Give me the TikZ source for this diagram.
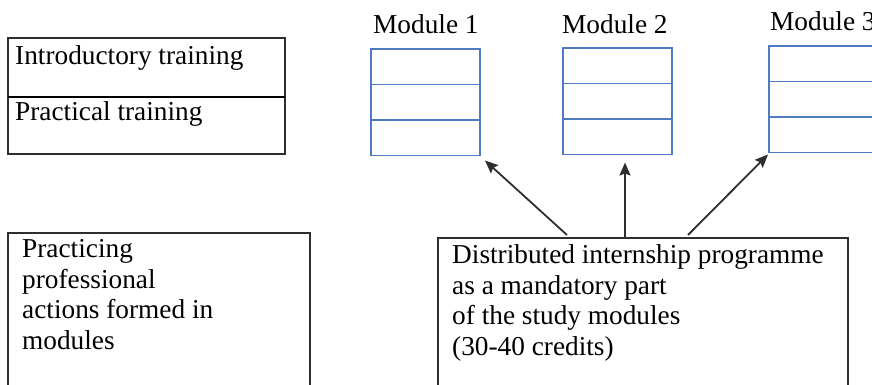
\documentclass[tikz,border=0pt]{standalone}
\usepackage{fontspec}
\setmainfont{Liberation Serif}
\usetikzlibrary{arrows.meta}
\definecolor{modblue}{HTML}{4F7BC0}
\definecolor{boxgray}{HTML}{2E2E2E}
\begin{document}
\begin{tikzpicture}[x=1pt,y=-1pt,
  box/.style={draw=boxgray, line width=1.7pt, inner sep=0pt, outer sep=0pt, anchor=north west},
  modrow/.style={draw=modblue, line width=1.7pt, inner sep=0pt, outer sep=0pt, anchor=north west,
    minimum width=109pt, minimum height=35.5pt},
  txt/.style={font=\fontsize{27.3}{30.5}\selectfont, inner sep=0pt, anchor=base west, align=left},
  arr/.style={-{Stealth[length=13pt,width=11pt,inset=2pt]}, line width=1.8pt, draw=boxgray},
  divider/.style={line width=2.6pt, draw=black}
]
\useasboundingbox (0,0) rectangle (872,384);
\clip (0,0) rectangle (872,384);

% top-left box
\node[box, minimum width=277pt, minimum height=59pt] (intro) at (8,38) {};
\node[box, minimum width=277pt, minimum height=57pt] (pract) at (8,97) {};
\draw[divider] (intro.south west) -- (intro.south east);
\node[txt] (introT) at (15,64) {Introductory training};
\node[txt] (practT) at (15,120) {Practical training};

% bottom-left box
\node[box, minimum width=302pt, minimum height=170pt] (prof) at (8,233) {};
\node[txt] (profT) at (22,349) {Practicing\\professional\\actions formed in\\modules};

% bottom-right box
\node[box, minimum width=410pt, minimum height=170pt] (prog) at (438,238) {};
\node[txt] (progT) at (452,355) {Distributed internship programme\\as a mandatory part\\of the study modules\\(30-40 credits)};

% modules
\node[txt] (m1L) at (373,33) {Module 1};
\node[modrow] (m1a) at (371,49) {};
\node[modrow] (m1b) at (m1a.south west) {};
\node[modrow] (m1c) at (m1b.south west) {};

\node[txt] (m2L) at (562,33) {Module 2};
\node[modrow] (m2a) at (563,48) {};
\node[modrow] (m2b) at (m2a.south west) {};
\node[modrow] (m2c) at (m2b.south west) {};

\node[txt] (m3L) at (770,30) {Module 3};
\node[modrow] (m3a) at (769,46) {};
\node[modrow] (m3b) at (m3a.south west) {};
\node[modrow] (m3c) at (m3b.south west) {};

% arrows
\draw[arr] ([xshift=129pt,yshift=3pt]prog.north west) -- ([xshift=5pt,yshift=-5pt]m1c.south east);
\draw[arr] ([xshift=187pt]prog.north west) -- ([xshift=7.5pt,yshift=-8pt]m2c.south);
\draw[arr] ([xshift=250pt,yshift=3pt]prog.north west) -- ([xshift=-1pt,yshift=-2pt]m3c.south west);
\end{tikzpicture}
\end{document}
